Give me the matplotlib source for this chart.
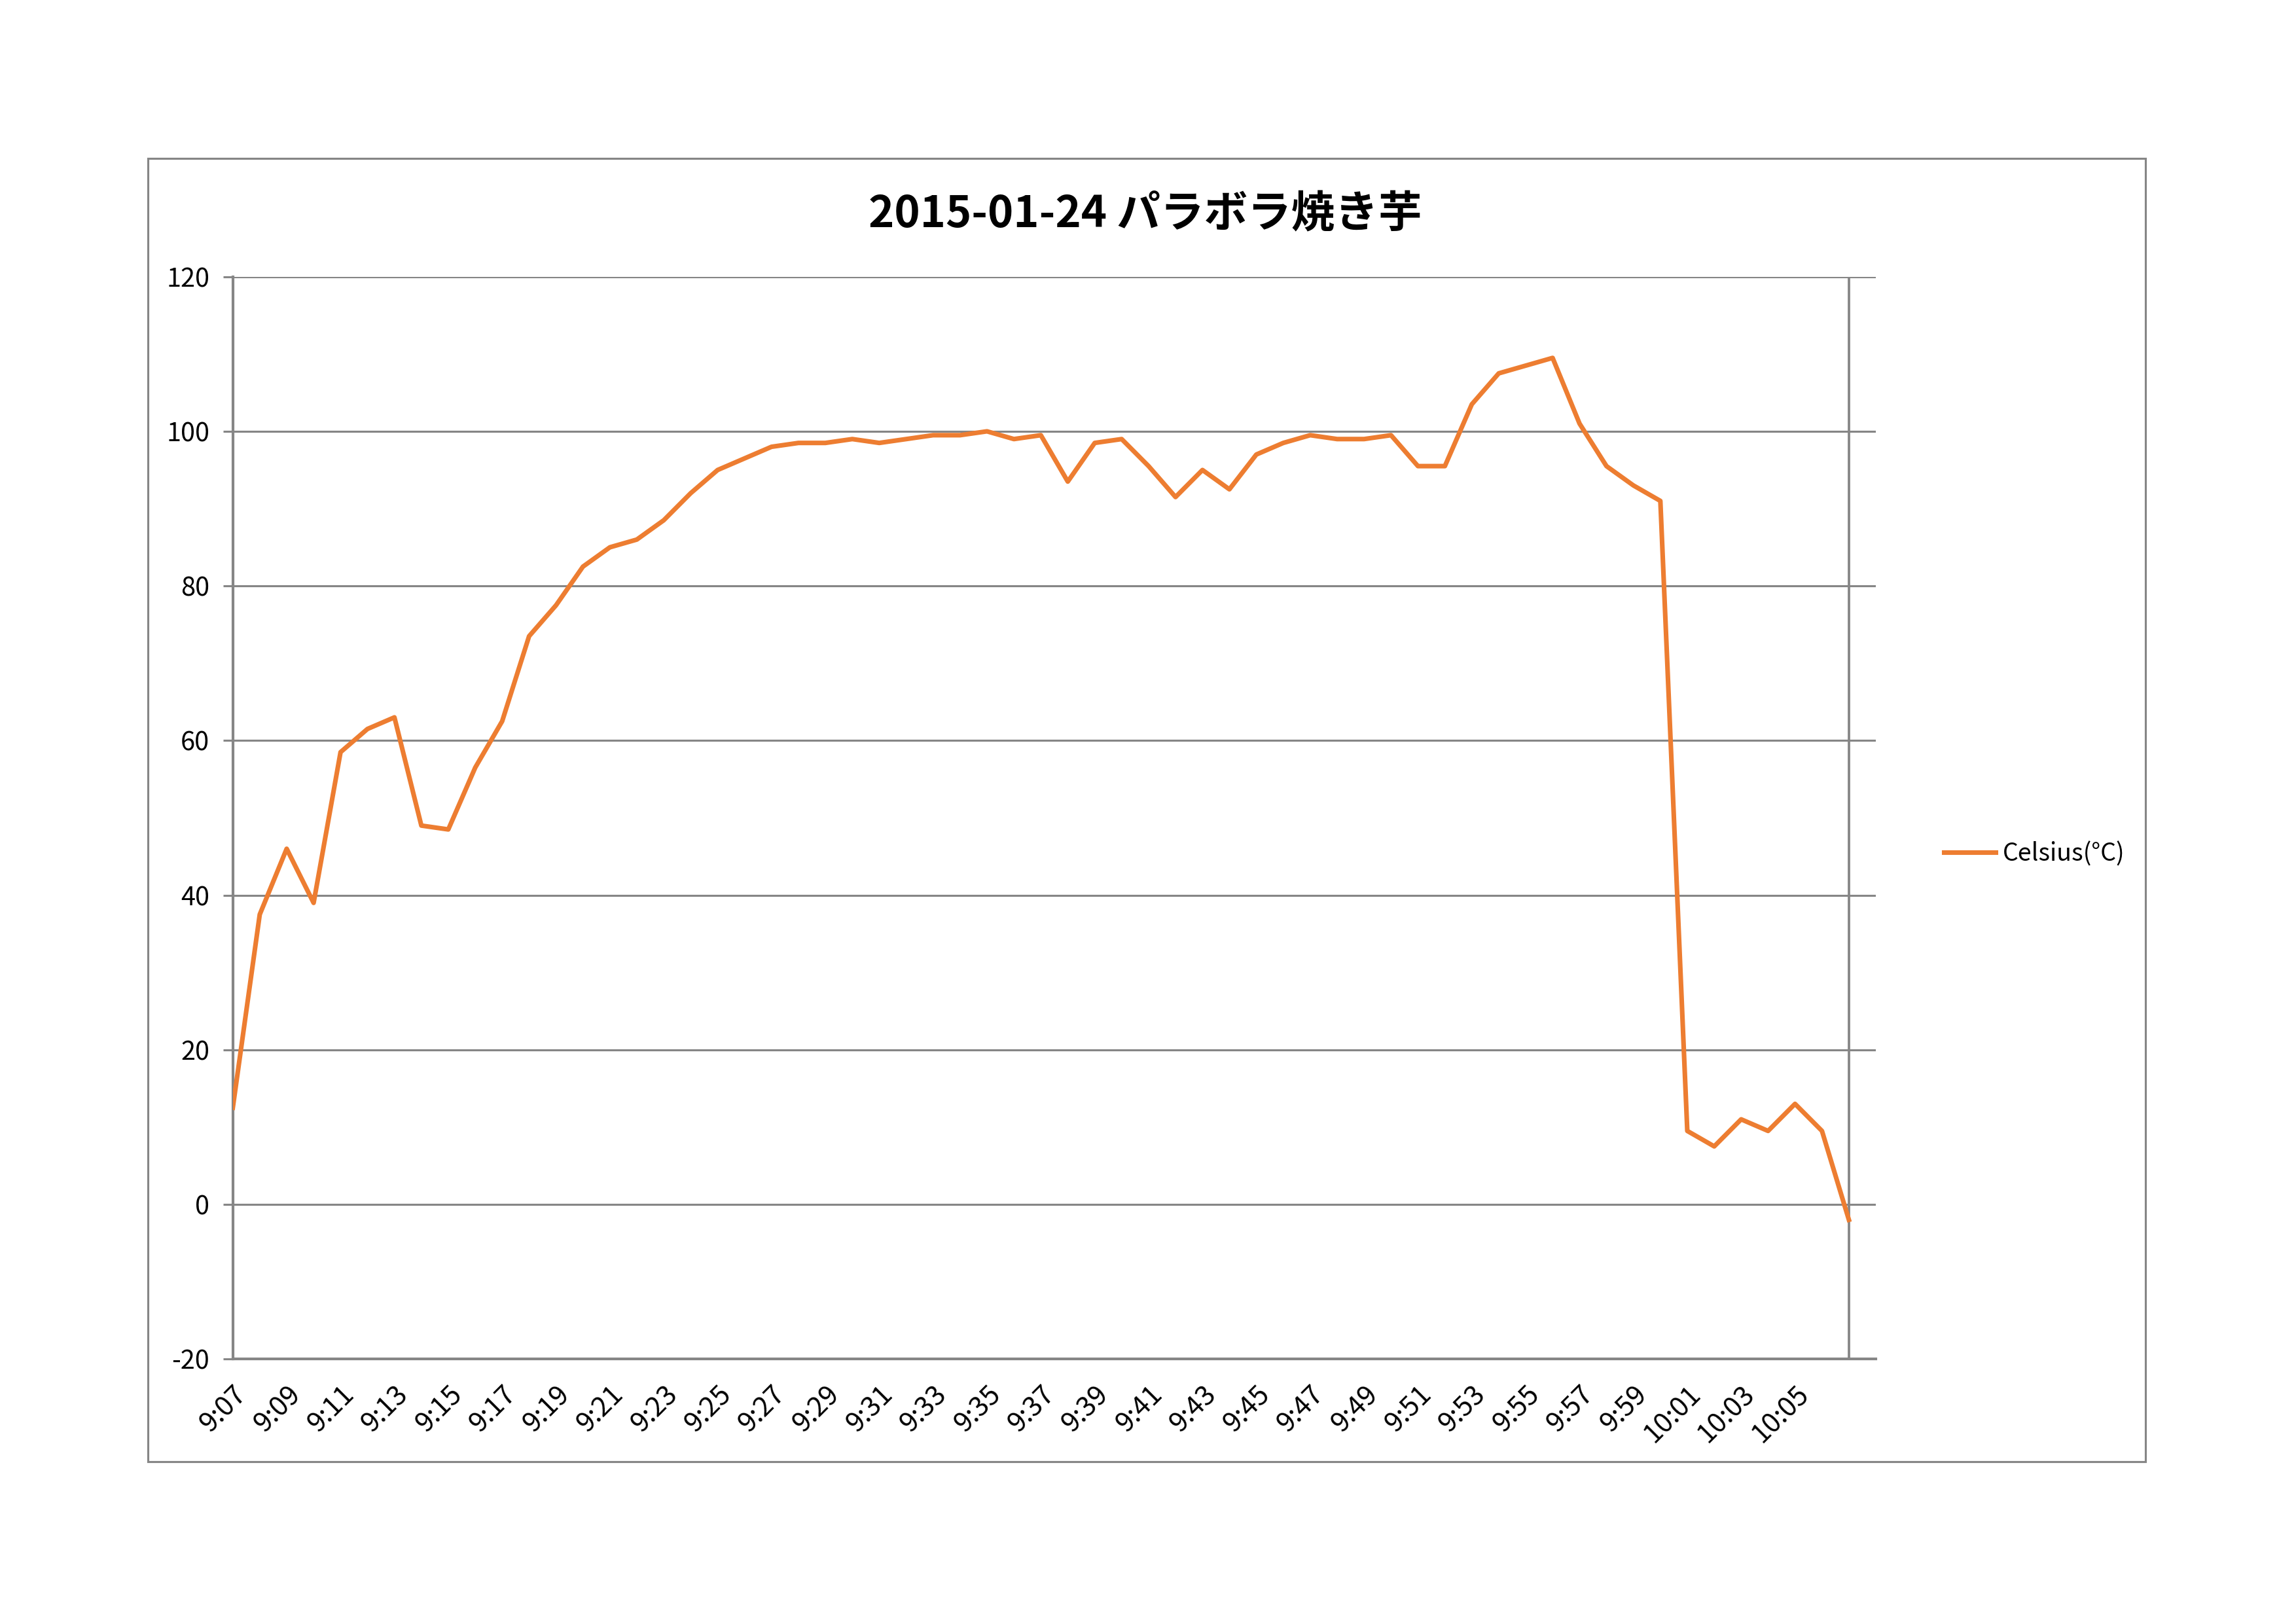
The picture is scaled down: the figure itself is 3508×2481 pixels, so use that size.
import matplotlib
matplotlib.use('Agg')
import matplotlib.pyplot as plt
from matplotlib.patches import Rectangle

plt.rcParams['font.family'] = ['Noto Sans CJK JP', 'DejaVu Sans']
plt.rcParams['axes.unicode_minus'] = False

# minutes from 9:07 to 10:07
times = ['%d:%02d' % ((7 + i) // 60 + 9, (7 + i) % 60) for i in range(61)]
celsius = [12.5, 37.5, 46, 39, 58.5, 61.5, 63, 49, 48.5, 56.5,
           62.5, 73.5, 77.5, 82.5, 85, 86, 88.5, 92, 95, 96.5,
           98, 98.5, 98.5, 99, 98.5, 99, 99.5, 99.5, 100, 99,
           99.5, 93.5, 98.5, 99, 95.5, 91.5, 95, 92.5, 97, 98.5,
           99.5, 99, 99, 99.5, 95.5, 95.5, 103.5, 107.5, 108.5, 109.5,
           101, 95.5, 93, 91, 9.5, 7.5, 11, 9.5, 13, 9.5,
           -2]
title = '2015-01-24 パラボラ焼き芋'
series_name = 'Celsius(°C)'

grid_col = '#868686'
line_col = '#ED7D31'

fig = plt.figure(figsize=(3508 / 300, 2481 / 300), dpi=300)
fig.patches.append(Rectangle((0.0644, 0.1001), 0.9343 - 0.0644, 0.9026 - 0.1001,
                             transform=fig.transFigure, fill=False,
                             edgecolor=grid_col, linewidth=0.75))

ax = fig.add_axes([0.1014, 0.1632, 0.817 - 0.1014, 0.8296 - 0.1632])
x = list(range(len(times)))
ax.plot(x, celsius, color=line_col, linewidth=1.7, label=series_name,
        solid_joinstyle='round', zorder=3)

ax.set_xlim(0, len(times))
ax.set_ylim(-20, 120)
ax.set_yticks(range(-20, 121, 20))
ax.set_xticks(x[::2][:-1])
ax.set_xticklabels(times[::2][:-1], rotation=45, ha='right', va='top',
                   rotation_mode='anchor')
ax.set_xticks(range(0, 61, 10), minor=True)
ax.tick_params(axis='x', which='both', length=0, pad=8, labelsize=10)
ax.tick_params(axis='y', length=3.5, width=0.75, color=grid_col, pad=5, labelsize=9.5)

ax.grid(axis='y', color=grid_col, linewidth=0.75)
ax.grid(axis='x', which='minor', color=grid_col, linewidth=0.9)
ax.grid(axis='x', which='major', visible=False)
ax.set_axisbelow(True)

for s in ['top', 'right']:
    ax.spines[s].set_visible(False)
for s in ['left', 'bottom']:
    ax.spines[s].set_color(grid_col)
    ax.spines[s].set_linewidth(1.0)

fig.text(0.4987, 0.868, title, ha='center', va='center', fontsize=16,
         fontweight='bold')

fig.legend(loc='center left', bbox_to_anchor=(0.837, 0.474), frameon=False,
           fontsize=9, handlelength=2.1, handletextpad=0.3)

fig.savefig('out.png', dpi=300)
